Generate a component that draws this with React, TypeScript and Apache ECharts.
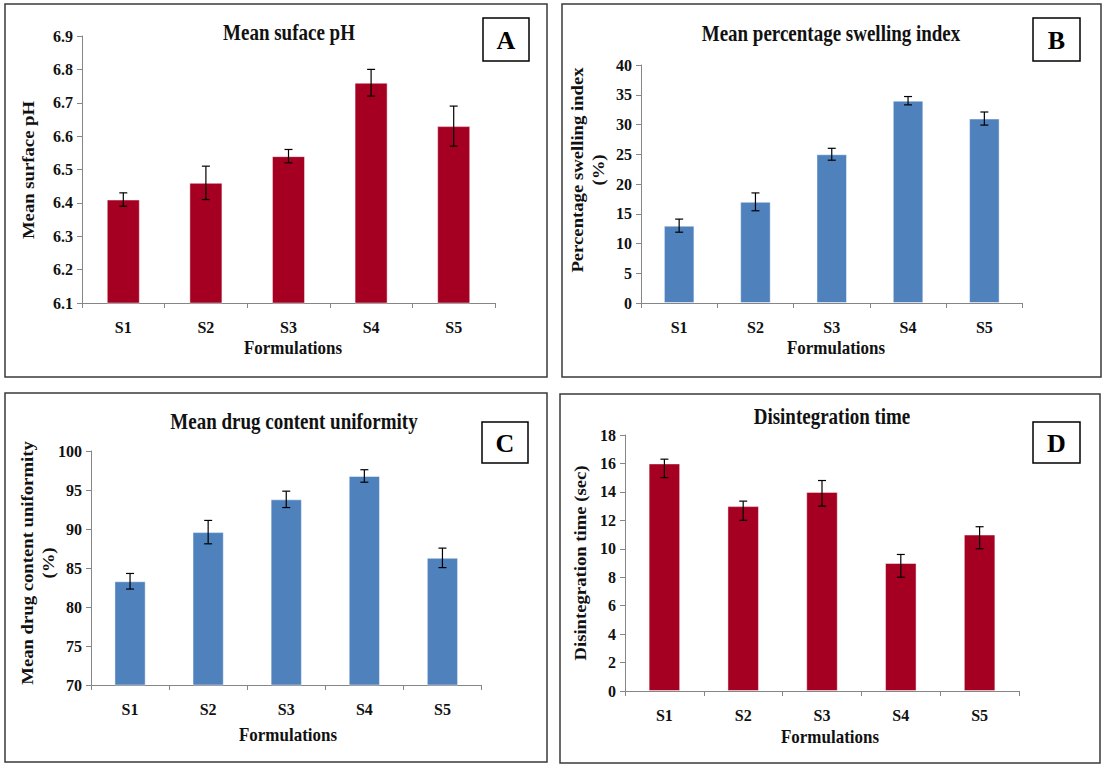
import React, { useEffect, useRef } from "react";
import * as echarts from "echarts";

const categories = ["S1", "S2", "S3", "S4", "S5"];

const phValues = [6.41, 6.46, 6.54, 6.76, 6.63];
const phErr = [0.02, 0.05, 0.02, 0.04, 0.06];

const swellValues = [13, 17, 25, 34, 31];
const swellErr = [1.1, 1.5, 1.0, 0.7, 1.1];

const drugValues = [83.3, 89.6, 93.8, 96.8, 86.3];
const drugErr = [1.0, 1.5, 1.05, 0.8, 1.25];

const disValues = [16, 13, 14, 9, 11];
const disErrUp = [0.3, 0.35, 0.8, 0.6, 0.55];
const disErrDown = [1.0, 1.0, 1.0, 1.0, 1.0];

const titles = ["Mean suface pH", "Mean percentage swelling index", "Mean drug content uniformity", "Disintegration time"];
const yNames = ["Mean surface pH", "Percentage swelling index\n(%)", "Mean drug content uniformity\n(%)", "Disintegration time (sec)"];
const xName = "Formulations";
const letters = ["A", "B", "C", "D"];

const RED = "#A50021";
const BLUE = "#4F81BD";
const FONT = "Liberation Serif";

export default function App() {
  const ref = useRef<HTMLDivElement>(null);

  useEffect(() => {
    document.body.style.margin = "0";
    if (!ref.current) return;
    const chart = echarts.init(ref.current, undefined, { renderer: "svg" });

    const grids = [
      { left: 82, top: 36, width: 413, height: 267 },
      { left: 641, top: 65, width: 381.5, height: 238 },
      { left: 91, top: 451, width: 390.5, height: 234 },
      { left: 625, top: 435, width: 394, height: 256 },
    ];
    const yRanges = [
      { min: 6.1, max: 6.9, interval: 0.1, fmt: (v: number) => v.toFixed(1) },
      { min: 0, max: 40, interval: 5, fmt: (v: number) => String(v) },
      { min: 70, max: 100, interval: 5, fmt: (v: number) => String(v) },
      { min: 0, max: 18, interval: 2, fmt: (v: number) => String(v) },
    ];
    const values = [phValues, swellValues, drugValues, disValues];
    const up = [phErr, swellErr, drugErr, disErrUp];
    const down = [phErr, swellErr, drugErr, disErrDown];
    const colors = [RED, BLUE, BLUE, RED];

    const axisLineStyle = { color: "#868686", width: 1 };

    const labelStyle = {
      color: "#111",
      fontFamily: FONT,
      fontWeight: "bold",
      fontSize: 16,
    };

    const xAxis = grids.map((_, i) => ({
      type: "category",
      gridIndex: i,
      data: categories,
      axisLine: { lineStyle: axisLineStyle },
      axisTick: { show: true, length: 5, lineStyle: axisLineStyle },
      axisLabel: { ...labelStyle, margin: 16 },
    }));

    const yAxis = grids.map((_, i) => ({
      type: "value",
      gridIndex: i,
      min: yRanges[i].min,
      max: yRanges[i].max,
      interval: yRanges[i].interval,
      axisLine: { show: true, lineStyle: axisLineStyle },
      axisTick: { show: true, length: 5, lineStyle: axisLineStyle },
      splitLine: { show: false },
      axisLabel: { ...labelStyle, margin: 9, formatter: yRanges[i].fmt },
    }));

    const barSeries = values.map((vals, i) => ({
      type: "bar",
      xAxisIndex: i,
      yAxisIndex: i,
      data: vals,
      barWidth: "40%",
      itemStyle: {
        color: colors[i],
        borderColor: "rgba(255,255,255,0.45)",
        borderWidth: 1,
      },
      z: 2,
    }));

    const errSeries = values.map((vals, i) => ({
      type: "custom",
      xAxisIndex: i,
      yAxisIndex: i,
      z: 5,
      data: vals.map((v, k) => [k, v - down[i][k], v + up[i][k]]),
      encode: { x: 0, y: [1, 2] },
      renderItem: (params: any, api: any) => {
        const idx = api.value(0);
        const pHi = api.coord([idx, api.value(2)]);
        const pLo = api.coord([idx, api.value(1)]);
        const cx = pHi[0];
        const w = 4;
        const st = { stroke: "#000", lineWidth: 1.2 };
        return {
          type: "group",
          children: [
            { type: "line", shape: { x1: cx, y1: pHi[1], x2: cx, y2: pLo[1] }, style: st },
            { type: "line", shape: { x1: cx - w, y1: pHi[1], x2: cx + w, y2: pHi[1] }, style: st },
            { type: "line", shape: { x1: cx - w, y1: pLo[1], x2: cx + w, y2: pLo[1] }, style: st },
          ],
        };
      },
    }));

    const panels = [
      { x: 5, y: 4, w: 542, h: 373 },
      { x: 562, y: 4, w: 539, h: 373 },
      { x: 5, y: 393, w: 542, h: 369 },
      { x: 560, y: 394, w: 540, h: 369 },
    ];
    const titlePos = [
      [289, 32],
      [831, 33],
      [294, 421],
      [832, 416],
    ];
    const boxes = [
      { x: 483, y: 18, w: 46, h: 43 },
      { x: 1033, y: 18, w: 47, h: 43 },
      { x: 482, y: 422, w: 46, h: 41 },
      { x: 1033, y: 422, w: 47, h: 41 },
    ];
    const yNamePos = [
      [28, 170],
      [588, 170],
      [38, 563],
      [580, 563],
    ];
    const xNamePos = [
      [293, 348],
      [836, 348],
      [288, 735],
      [830, 737],
    ];

    const graphic: any[] = [];
    panels.forEach((p) => {
      graphic.push({
        type: "rect",
        shape: { x: p.x, y: p.y, width: p.w, height: p.h },
        style: { fill: "none", stroke: "#3a3a3a", lineWidth: 1.5 },
        z: 0,
      });
    });
    titlePos.forEach((p, i) => {
      graphic.push({
        type: "text",
        x: p[0],
        y: p[1],
        scaleY: 1.2,
        style: {
          text: titles[i],
          fontFamily: FONT,
          fontWeight: "bold",
          fontSize: 19,
          fill: "#111",
          textAlign: "center",
          textVerticalAlign: "middle",
        },
        z: 10,
      });
    });
    boxes.forEach((b, i) => {
      graphic.push({
        type: "rect",
        shape: { x: b.x, y: b.y, width: b.w, height: b.h },
        style: { fill: "#fff", stroke: "#000", lineWidth: 1.5 },
        z: 10,
      });
      graphic.push({
        type: "text",
        x: b.x + b.w / 2,
        y: b.y + b.h / 2 + 1,
        style: {
          text: letters[i],
          fontFamily: FONT,
          fontWeight: "bold",
          fontSize: 26,
          fill: "#000",
          textAlign: "center",
          textVerticalAlign: "middle",
        },
        z: 11,
      });
    });
    yNamePos.forEach((p, i) => {
      graphic.push({
        type: "text",
        x: p[0],
        y: p[1],
        rotation: Math.PI / 2,
        scaleX: 1.1,
        style: {
          text: yNames[i],
          fontFamily: FONT,
          fontWeight: "bold",
          fontSize: 17,
          lineHeight: 21,
          fill: "#111",
          textAlign: "center",
          textVerticalAlign: "middle",
        },
        z: 10,
      });
    });
    xNamePos.forEach((p) => {
      graphic.push({
        type: "text",
        x: p[0],
        y: p[1],
        scaleY: 1.15,
        style: {
          text: xName,
          fontFamily: FONT,
          fontWeight: "bold",
          fontSize: 17,
          fill: "#111",
          textAlign: "center",
          textVerticalAlign: "middle",
        },
        z: 10,
      });
    });

    chart.setOption({
      animation: false,
      backgroundColor: "#fff",
      textStyle: { fontFamily: FONT },
      grid: grids.map((g) => ({ ...g, containLabel: false })),
      xAxis,
      yAxis,
      series: [...barSeries, ...errSeries],
      graphic,
    } as any);

    return () => {
      chart.dispose();
    };
  }, []);

  return <div ref={ref} style={{ width: 1109, height: 770 }} />;
}
